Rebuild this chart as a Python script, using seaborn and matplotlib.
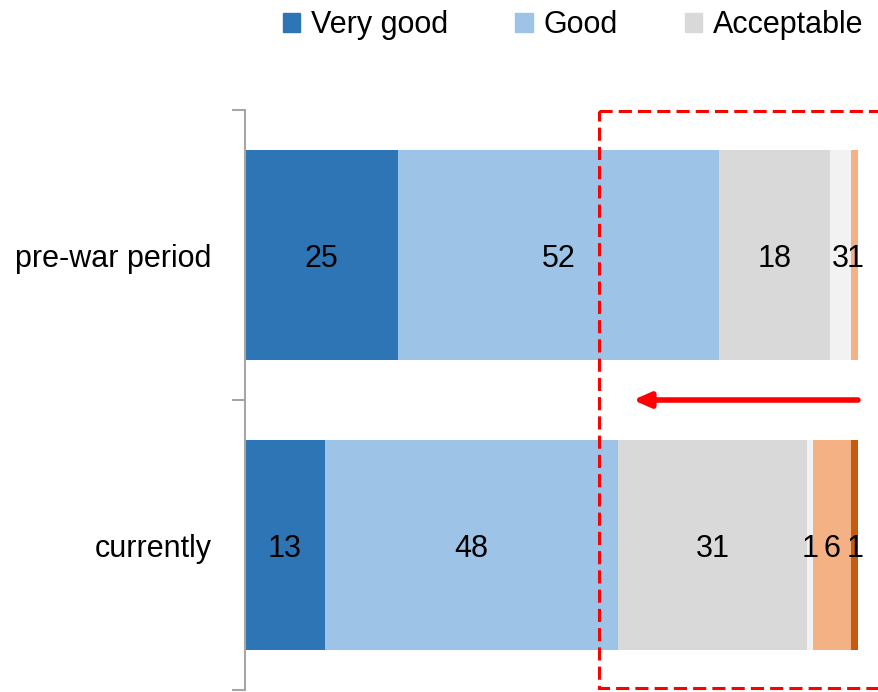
import numpy as np
import pandas as pd
import matplotlib
matplotlib.use('Agg')
import matplotlib.pyplot as plt
from matplotlib.patches import Patch, Rectangle
import seaborn as sns

# survey data (share of answers, %)
periods = ['pre-war period', 'currently']
ratings = ['Very good', 'Good', 'Acceptable', 'Hard to say', 'Bad', 'Very bad']
very_good = [25.0, 13.0]
good = [52.3, 47.8]
acceptable = [18.2, 30.9]
hard_to_say = [3.4, 1.0]
bad = [1.1, 6.2]
very_bad = [0.0, 1.1]
colors = ['#2E75B6', '#9DC3E6', '#D9D9D9', '#F2F2F2', '#F4B183', '#C55A11']
legend_shown = 3  # rest of the legend is cut off in the original

df = pd.DataFrame({'Very good': very_good, 'Good': good, 'Acceptable': acceptable,
                   'Hard to say': hard_to_say, 'Bad': bad, 'Very bad': very_bad},
                  index=periods)
cum = df.cumsum(axis=1)

sns.set_style('white')
plt.rcParams['font.family'] = ['Liberation Sans', 'DejaVu Sans']
plt.rcParams['text.color'] = 'black'
plt.rcParams['ytick.labelcolor'] = 'black'

fig = plt.figure(figsize=(8.79, 6.92), dpi=100)
ax = fig.add_axes([245 / 879, 2 / 692, (858 - 245) / 879, 580 / 692])

# stacked bars: draw cumulative totals from the last rating backwards
for r, c in reversed(list(zip(ratings, colors))):
    sns.barplot(x=cum[r].values, y=periods, order=periods, color=c, orient='h',
                width=0.725, saturation=1, errorbar=None, linewidth=0, ax=ax)

# value labels in the middle of each segment
for i, p in enumerate(periods):
    for r in ratings:
        v = df.loc[p, r]
        if v > 0:
            ax.text(cum.loc[p, r] - v / 2, i + 0.013, f'{v:.0f}', ha='center',
                    va='center', fontsize=22, color='black')

ax.set_xlim(0, 100)
ax.set_ylim(1.5, -0.5)
ax.set_xticks([])
ax.set_xlabel('')
ax.set_ylabel('')
ax.set_yticks([-0.5, 0.5, 1.5])
ax.set_yticklabels(['', '', ''])
ax.set_yticks([0, 1], minor=True)
ax.set_yticklabels(periods, minor=True)
ax.tick_params(axis='y', which='major', left=True, length=9.5, width=1.5,
               color='#A6A6A6', direction='out')
ax.tick_params(axis='y', which='minor', left=True, length=0, pad=24, labelsize=22,
               labelcolor='black')
for s in ['top', 'right', 'bottom']:
    ax.spines[s].set_visible(False)
ax.spines['left'].set_color('#A6A6A6')
ax.spines['left'].set_linewidth(1.5)

# red dashed frame and arrow
ax.add_patch(Rectangle((57.75, -0.497), 60, 1.99, fill=False, ec='#FF0000', lw=2.2,
                       ls=(0, (4.3, 2)), clip_on=False))
ax.annotate('', xy=(63.3, 0.5), xytext=(100, 0.5),
            arrowprops=dict(arrowstyle='-|>,head_length=0.5,head_width=0.22',
                            color='#FF0000', lw=4, shrinkA=0, shrinkB=0,
                            mutation_scale=20),
            annotation_clip=False)

handles = [Patch(color=c) for c in colors[:legend_shown]]
fig.legend(handles, ratings[:legend_shown], loc='center left',
           bbox_to_anchor=(283 / 879, 1 - 25 / 692), frameon=False, ncol=3,
           fontsize=22, handlelength=0.56, handleheight=0.56, handletextpad=0.36,
           columnspacing=2.2, borderpad=0, borderaxespad=0)

fig.savefig('out.png', dpi=100)
